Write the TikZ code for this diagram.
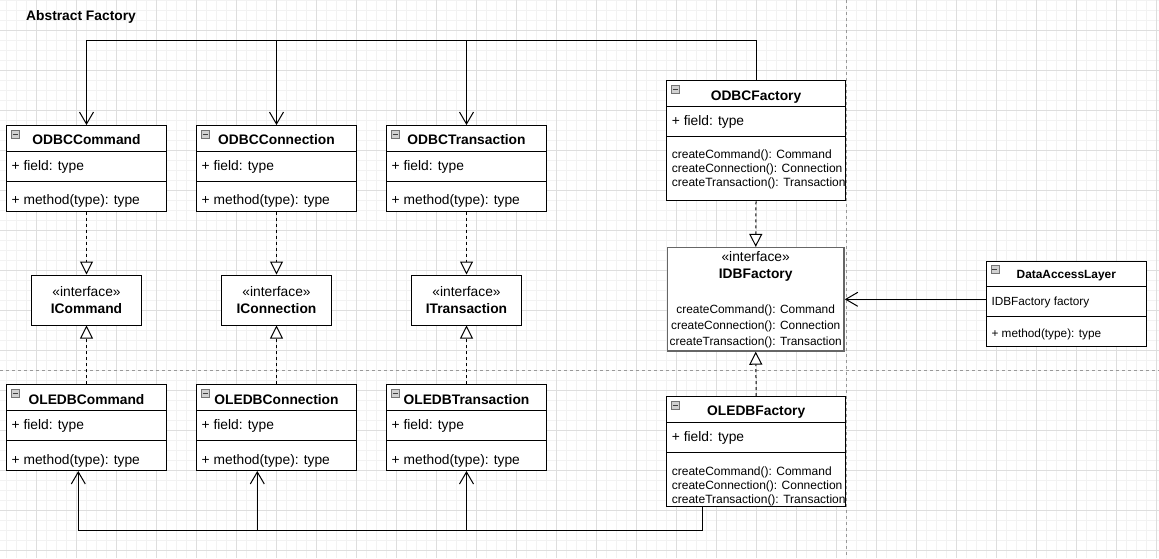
\documentclass[tikz,border=0pt]{standalone}
\usepackage{fontspec}
\setmainfont{Liberation Sans}
\usetikzlibrary{arrows.meta}

\tikzset{
  minorgrid/.style={draw=black!5, line width=0.5pt},
  majorgrid/.style={draw=black!13, line width=0.7pt},
  pagebreak/.style={draw=black!40, line width=0.8pt, dash pattern=on 3pt off 3pt},
  heading/.style={anchor=west, inner sep=0pt, font=\bfseries\fontsize{13.8}{16}\selectfont},
  classframe/.style={draw, fill=white, line width=1pt, inner sep=0pt},
  rowline/.style={draw, line width=1pt},
  classtitle/.style={inner sep=0pt, font=\bfseries\fontsize{13.8}{16}\selectfont},
  member/.style={anchor=west, align=left, inner sep=0pt, font=\fontsize{13.8}{16}\selectfont},
  methods/.style={},
  iconbox/.style={draw=black!55, fill=black!18, line width=0.6pt},
  iconminus/.style={draw=black!75, line width=0.8pt},
  iface/.style={draw, fill=white, line width=1pt, minimum width=110pt, minimum height=50pt,
    inner sep=0pt, align=center, font=\fontsize{13.8}{17}\selectfont},
  ifaceframe/.style={draw=black!60, fill=white, line width=1.5pt, minimum width=176.7pt,
    minimum height=103.3pt, inner sep=0pt},
  ifacetext/.style={inner sep=0pt, align=center, font=\fontsize{13.8}{17}\selectfont},
  assoc/.style={draw, line width=1pt, -{Straight Barb[length=12pt, width=14pt]}},
  realize/.style={draw, line width=1pt, dash pattern=on 3pt off 3pt,
    -{Triangle[open, length=13pt, width=13pt, fill=white]}},
}

% name, top centre, width, height, title, field, methods, methods offset
\newcommand{\umlclass}[8]{%
  \node[classframe, minimum width=#3, minimum height=#4, anchor=north] (#1) at #2 {};
  \draw[rowline] ([yshift=-26pt]#1.north west) -- ([yshift=-26pt]#1.north east);
  \draw[rowline] ([yshift=-56pt]#1.north west) -- ([yshift=-56pt]#1.north east);
  \draw[iconbox] (#1.north west) ++(5,5) rectangle ++(8,8);
  \draw[iconminus] (#1.north west) ++(6.5,9) -- ++(5,0);
  \path (#1.north) ++(0,15) node[classtitle] {#5};
  \path (#1.north west) ++(5.5,41.5) node[member] {#6};
  \begin{scope}
    \clip (#1.north west) rectangle (#1.south east);
    \path (#1.north west) ++(5.5,#8) node[member, methods] {#7};
  \end{scope}
}

\begin{document}
\begin{tikzpicture}[x=1pt, y=-1pt]
\useasboundingbox (0,0) rectangle (1159,558);
\fill[white] (0,0) rectangle (1159,558);

% background grid
\foreach \gx in {6,16,...,1156} \draw[minorgrid] (\gx,0) -- (\gx,558);
\foreach \gy in {0,10,...,550} \draw[minorgrid] (0,\gy) -- (1159,\gy);
\foreach \gx in {36,76,...,1156} \draw[majorgrid] (\gx,0) -- (\gx,558);
\foreach \gy in {30,70,...,550} \draw[majorgrid] (0,\gy) -- (1159,\gy);
\draw[pagebreak] (846,0) -- (846,558);
\draw[pagebreak] (0,370.5) -- (1159,370.5);

\node[heading] (title) at (26,17) {Abstract Factory};

% ODBC products
\umlclass{odbccmd}{(86.5,125)}{160pt}{85.5pt}{ODBCCommand}{+ field: type}{+ method(type): type}{75.8}
\umlclass{odbcconn}{(276.5,125)}{160pt}{85.5pt}{ODBCConnection}{+ field: type}{+ method(type): type}{75.8}
\umlclass{odbctrans}{(466.5,125)}{160pt}{85.5pt}{ODBCTransaction}{+ field: type}{+ method(type): type}{75.8}

% interfaces
\node[iface] (icommand) at (86.5,300) {«interface»\\\textbf{ICommand}};
\node[iface] (iconn) at (276.5,300) {«interface»\\\textbf{IConnection}};
\node[iface] (itrans) at (466.5,300) {«interface»\\\textbf{ITransaction}};

% OLEDB products
\umlclass{oledbcmd}{(86.5,384.3)}{160pt}{85.7pt}{OLEDBCommand}{+ field: type}{+ method(type): type}{76.3}
\umlclass{oledbconn}{(276.5,384.3)}{160pt}{85.7pt}{OLEDBConnection}{+ field: type}{+ method(type): type}{76.3}
\umlclass{oledbtrans}{(466.5,384.3)}{160pt}{85.7pt}{OLEDBTransaction}{+ field: type}{+ method(type): type}{76.3}

% factories
\begin{scope}[methods/.style={font=\fontsize{12}{14}\selectfont},
  classtitle/.append style={yshift=-1.5pt}]
\umlclass{odbcfactory}{(756,80.3)}{178.6pt}{120pt}{ODBCFactory}{+ field: type}
  {createCommand(): Command\\createConnection(): Connection\\createTransaction(): Transaction}{89}
\umlclass{oledbfactory}{(756.2,396)}{179pt}{110pt}{OLEDBFactory}{+ field: type}
  {createCommand(): Command\\createConnection(): Connection\\createTransaction(): Transaction}{90}
\end{scope}

\node[ifaceframe] (idbfactory) at (755.7,299.3) {};
\path (idbfactory.north) ++(0,19.6) node[ifacetext] (idbname) {«interface»\\\textbf{IDBFactory}};
\path (idbfactory.north) ++(0,79.3) node[ifacetext, font=\fontsize{11.9}{16}\selectfont] (idbops)
  {createCommand(): Command\\createConnection(): Connection\\createTransaction(): Transaction};

% client
\begin{scope}[classtitle/.style={inner sep=0pt, font=\bfseries\fontsize{11.9}{14}\selectfont},
  member/.style={anchor=west, align=left, inner sep=0pt, font=\fontsize{11.8}{14}\selectfont}]
\umlclass{dal}{(1066.3,260.7)}{160pt}{85.3pt}{DataAccessLayer}{IDBFactory factory}{+ method(type): type}{74}
\end{scope}

% connectors
\coordinate (topbus) at (0,40.3);
\draw[assoc] (odbcfactory.north) -- (odbcfactory.north |- topbus) -| (odbccmd.north);
\draw[assoc] (odbcconn.north |- topbus) -- (odbcconn.north);
\draw[assoc] (odbctrans.north |- topbus) -- (odbctrans.north);

\coordinate (botbus) at (0,530.3);
\coordinate (busstart) at ([xshift=-53.9pt]oledbfactory.south);
\coordinate (cmdend) at ([xshift=-8.2pt]oledbcmd.south);
\coordinate (connend) at ([xshift=-19.2pt]oledbconn.south);
\draw[assoc] (busstart) -- (busstart |- botbus) -| (cmdend);
\draw[assoc] (connend |- botbus) -- (connend);
\draw[assoc] (oledbtrans.south |- botbus) -- (oledbtrans.south);

\draw[realize] (odbccmd.south) -- (icommand.north);
\draw[realize] (odbcconn.south) -- (iconn.north);
\draw[realize] (odbctrans.south) -- (itrans.north);
\draw[realize] (oledbcmd.north) -- (icommand.south);
\draw[realize] (oledbconn.north) -- (iconn.south);
\draw[realize] (oledbtrans.north) -- (itrans.south);
\draw[realize] (odbcfactory.south) -- (idbfactory.north);
\draw[realize] (oledbfactory.north) -- (idbfactory.south);

\draw[assoc] (dal.west |- idbfactory.east) -- (idbfactory.east);
\end{tikzpicture}
\end{document}
